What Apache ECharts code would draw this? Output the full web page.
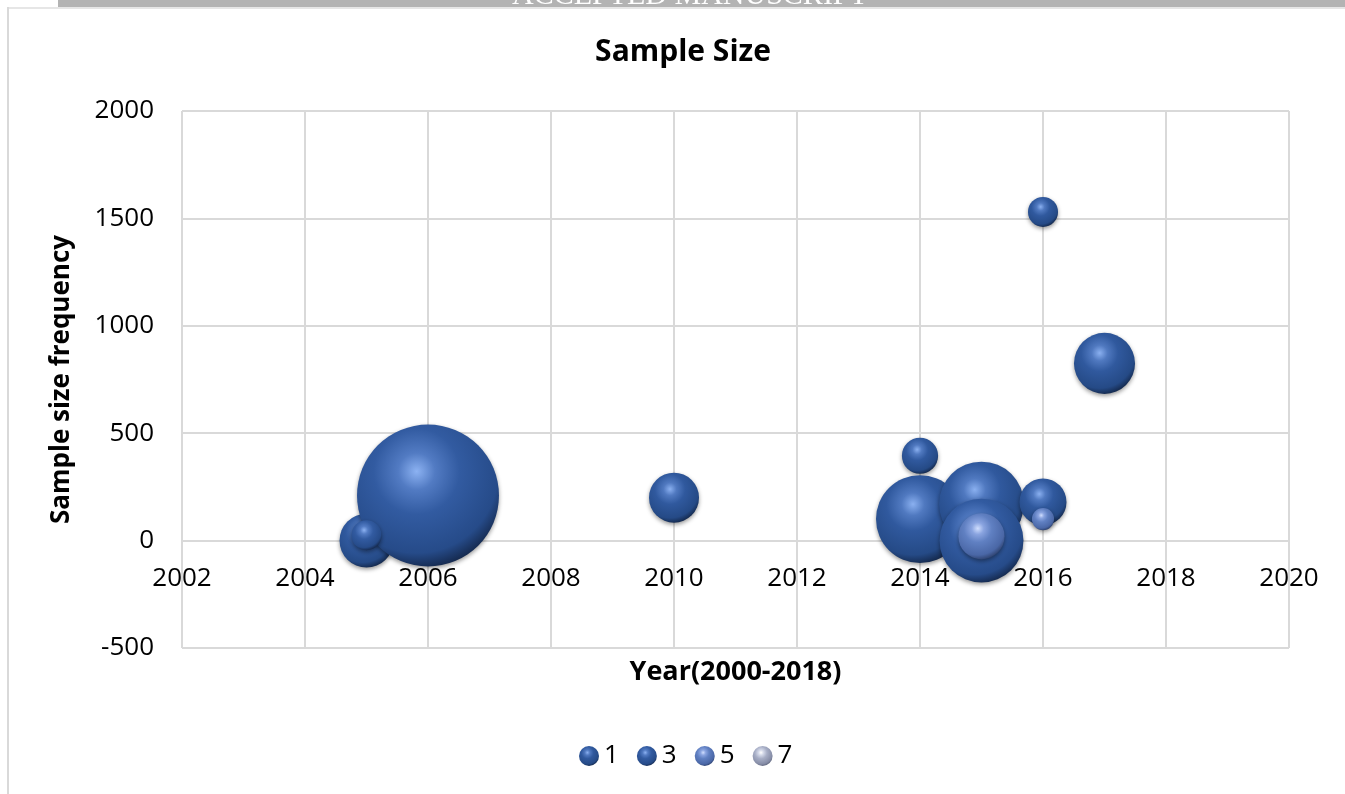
<!DOCTYPE html>
<html>
<head>
<meta charset="utf-8">
<title>Sample Size</title>
<script src="https://cdn.jsdelivr.net/npm/echarts@6/dist/echarts.min.js"></script>
<style>
  html, body { margin: 0; padding: 0; background: #ffffff; }
  #chart { width: 1345px; height: 794px; }
</style>
</head>
<body>
<div id="chart"></div>
<script>
// Studies: [year, sample size frequency, bubble size]
const seriesNames = ['1', '3', '5', '7'];
const series1 = [
  [2005, 0, 71],
  [2010, 200, 61],
  [2014, 395, 32],
  [2014, 100, 189],
  [2015, 170, 176],
  [2016, 1530, 22],
  [2016, 180, 54],
  [2017, 825, 91]
];
const series3 = [
  [2006, 210, 492],
  [2005, 25, 22],
  [2015, 0, 172]
];
const series5 = [
  [2015, 20, 52],
  [2016, 100, 12]
];
const series7 = [];

const xTicks = { min: 2002, max: 2020, step: 2 };
const yTicks = { min: -500, max: 2000, step: 500 };

const FONT = '"Open Sans", "Noto Sans", sans-serif';

// Shaded sphere fills for each series
function sphere(light, mid, base, shade, rim) {
  return new echarts.graphic.RadialGradient(0.42, 0.33, 0.72, [
    { offset: 0, color: light },
    { offset: 0.18, color: mid },
    { offset: 0.42, color: base },
    { offset: 0.8, color: shade },
    { offset: 1, color: rim }
  ]);
}
const fills = [
  sphere('#8ab0f0', '#5079c0', '#30599e', '#254a86', '#0f1f3c'),
  sphere('#8cb2f2', '#527bc3', '#325ba1', '#264b89', '#10203e'),
  sphere('#d0defe', '#8aa4e0', '#6080c2', '#4a67a6', '#26375e'),
  sphere('#ffffff', '#d3d8e8', '#a7aec6', '#858ca6', '#545a70')
];
const legendColors = ['#30599e', '#3461a9', '#6a87c8', '#b3bad0'];

function bubbleSeries(name, data, idx) {
  return {
    name: name,
    type: 'scatter',
    data: data,
    symbol: 'circle',
    symbolSize: d => 6.4 * Math.sqrt(d[2]),
    itemStyle: {
      color: fills[idx],
      opacity: 1,
      shadowBlur: 4,
      shadowColor: 'rgba(0,0,0,0.4)',
      shadowOffsetY: 2
    },
    emphasis: { disabled: true },
    z: 2 + idx
  };
}

const yZeroOffset = -107.4; // lift the year axis up to the zero line

const chart = echarts.init(document.getElementById('chart'), null, { renderer: 'canvas' });

chart.setOption({
  backgroundColor: '#ffffff',
  animation: false,
  color: legendColors,
  title: {
    text: 'Sample Size',
    left: 678,
    textAlign: 'center',
    top: 32,
    textStyle: { fontFamily: FONT, fontSize: 30, fontWeight: 'bold', color: '#000000' }
  },
  legend: {
    left: 574,
    top: 738,
    icon: 'circle',
    itemWidth: 20,
    itemHeight: 20,
    itemGap: 18,
    data: seriesNames,
    textStyle: { fontFamily: FONT, fontSize: 26, color: '#000000' }
  },
  grid: { left: 182, right: 56, top: 111, bottom: 146, containLabel: false },
  xAxis: {
    type: 'value',
    position: 'bottom',
    offset: yZeroOffset,
    min: xTicks.min,
    max: xTicks.max,
    interval: xTicks.step,
    name: 'Year(2000-2018)',
    nameLocation: 'middle',
    nameGap: 118,
    nameTextStyle: { fontFamily: FONT, fontSize: 27, fontWeight: 'bold', color: '#000000' },
    axisLine: { show: false, onZero: false },
    axisTick: { show: false },
    axisLabel: { margin: 25, fontFamily: FONT, fontSize: 26, color: '#000000', formatter: v => String(v) },
    splitLine: { show: true, lineStyle: { color: '#d9d9d9', width: 2 } }
  },
  yAxis: {
    type: 'value',
    min: yTicks.min,
    max: yTicks.max,
    interval: yTicks.step,
    name: 'Sample size frequency',
    nameLocation: 'middle',
    nameGap: 107,
    nameTextStyle: { fontFamily: FONT, fontSize: 26, fontWeight: 'bold', color: '#000000' },
    axisLine: { show: false },
    axisTick: { show: false },
    axisLabel: { margin: 28, fontFamily: FONT, fontSize: 26, color: '#000000', formatter: v => String(v) },
    splitLine: { show: true, lineStyle: { color: '#d9d9d9', width: 2 } }
  },
  series: [
    bubbleSeries(seriesNames[0], series1, 0),
    bubbleSeries(seriesNames[1], series3, 1),
    bubbleSeries(seriesNames[2], series5, 2),
    bubbleSeries(seriesNames[3], series7, 3)
  ],
  graphic: [
    // page header band with clipped caption
    { type: 'rect', left: 58, top: 0, shape: { width: 1287, height: 7 }, style: { fill: '#b3b3b3' }, z: 10 },
    { type: 'text', left: 512, top: -19, style: { text: 'ACCEPTED MANUSCRIPT', fill: '#ffffff', font: '30px "Liberation Serif", serif' }, z: 11 },
    // chart frame
    { type: 'rect', left: 8, top: 7, shape: { width: 1337, height: 2 }, style: { fill: '#e6e6e6' }, z: 12 },
    { type: 'rect', left: 7, top: 7, shape: { width: 2, height: 787 }, style: { fill: '#d9d9d9' }, z: 12 }
  ]
});
</script>
</body>
</html>
